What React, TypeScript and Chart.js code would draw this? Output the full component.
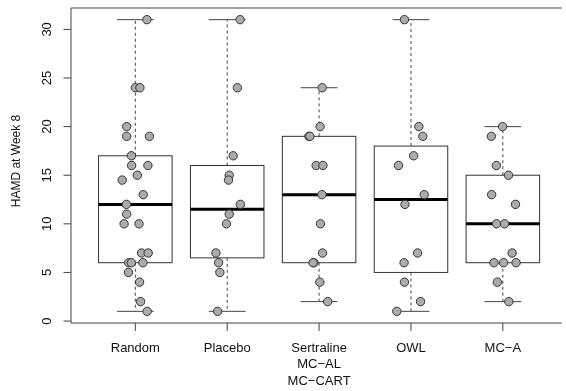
import React, { useEffect, useRef } from "react";
import { Chart, registerables } from "chart.js";

Chart.register(...registerables);

// ---- data ----
const categories: string[][] = [["Random"], ["Placebo"], ["Sertraline", "MC\u2212AL", "MC\u2212CART"], ["OWL"], ["MC\u2212A"]];

const randomValues = [31, 24, 24, 20, 19, 19, 17, 16, 16, 15, 14.5, 13, 12, 11, 10, 10, 7, 7, 6, 6, 6, 5, 4, 2, 1];
const randomJitter = [0.126, 0.0, 0.05, -0.094, -0.094, 0.154, -0.043, -0.04, 0.137, 0.022, -0.143, 0.086, -0.097, -0.094, -0.122, 0.04, 0.068, 0.14, -0.072, -0.043, 0.083, -0.075, 0.046, 0.057, 0.129];

const placeboValues = [31, 24, 17, 15, 14.5, 12, 11, 10, 7, 6, 5, 1];
const placeboJitter = [0.14, 0.111, 0.065, 0.022, 0.014, 0.143, 0.022, -0.008, -0.123, -0.094, -0.08, -0.104];

const sertralineValues = [24, 20, 19, 19, 16, 16, 13, 10, 7, 6, 6, 4, 2];
const sertralineJitter = [0.034, 0.011, -0.111, -0.1, -0.032, 0.042, 0.031, 0.015, 0.037, -0.057, -0.065, 0.008, 0.094];

const owlValues = [31, 20, 19, 17, 16, 13, 12, 7, 6, 4, 2, 1];
const owlJitter = [-0.071, 0.086, 0.129, 0.029, -0.136, 0.144, -0.065, 0.072, -0.075, -0.071, 0.104, -0.154];

const mcaValues = [20, 19, 16, 15, 13, 12, 10, 10, 7, 6, 6, 6, 4, 2];
const mcaJitter = [-0.003, -0.125, -0.071, 0.061, -0.122, 0.137, -0.068, 0.018, 0.101, -0.097, 0.008, 0.144, -0.06, 0.065];

const yTicks = [0, 5, 10, 15, 20, 25, 30];
const yTitle = "HAMD at Week 8";

const groupValues = [randomValues, placeboValues, sertralineValues, owlValues, mcaValues];
const groupJitter = [randomJitter, placeboJitter, sertralineJitter, owlJitter, mcaJitter];

// Tukey five-number summary (as R's boxplot)
function fivenum(vals: number[]): number[] {
  const x = [...vals].sort((a, b) => a - b);
  const n = x.length;
  const n4 = Math.floor((n + 3) / 2) / 2;
  const d = [1, n4, (n + 1) / 2, n + 1 - n4, n];
  return d.map((v) => 0.5 * (x[Math.floor(v) - 1] + x[Math.ceil(v) - 1]));
}

const FONT = '"Liberation Sans", Arial, Helvetica, sans-serif';

const boxPlugin = {
  id: "boxes",
  beforeDatasetsDraw(chart: any) {
    const { ctx, scales } = chart;
    const xs = scales.x;
    const ys = scales.y;
    ctx.save();
    groupValues.forEach((vals, i) => {
      const pos = i + 1;
      const [mn, q1, med, q3, mx] = fivenum(vals);
      const xc = xs.getPixelForValue(pos);
      const xl = xs.getPixelForValue(pos - 0.4);
      const xr = xs.getPixelForValue(pos + 0.4);
      const cl = xs.getPixelForValue(pos - 0.2);
      const cr = xs.getPixelForValue(pos + 0.2);
      const yMin = ys.getPixelForValue(mn);
      const yQ1 = ys.getPixelForValue(q1);
      const yMed = ys.getPixelForValue(med);
      const yQ3 = ys.getPixelForValue(q3);
      const yMax = ys.getPixelForValue(mx);
      // whiskers (dashed)
      ctx.strokeStyle = "#444";
      ctx.lineWidth = 1;
      ctx.setLineDash([3, 3]);
      ctx.beginPath();
      ctx.moveTo(xc, yQ3);
      ctx.lineTo(xc, yMax);
      ctx.moveTo(xc, yQ1);
      ctx.lineTo(xc, yMin);
      ctx.stroke();
      ctx.setLineDash([]);
      // caps
      ctx.beginPath();
      ctx.moveTo(cl, yMax);
      ctx.lineTo(cr, yMax);
      ctx.moveTo(cl, yMin);
      ctx.lineTo(cr, yMin);
      ctx.stroke();
      // box
      ctx.strokeStyle = "#333";
      ctx.strokeRect(xl, yQ3, xr - xl, yQ1 - yQ3);
      // median
      ctx.strokeStyle = "#000";
      ctx.lineWidth = 3;
      ctx.beginPath();
      ctx.moveTo(xl, yMed);
      ctx.lineTo(xr, yMed);
      ctx.stroke();
    });
    ctx.restore();
  },
  afterDraw(chart: any) {
    const { ctx, scales, chartArea } = chart;
    const xs = scales.x;
    const ys = scales.y;
    ctx.save();
    ctx.strokeStyle = "#444";
    ctx.lineWidth = 1;
    // frame (top, left, bottom)
    ctx.beginPath();
    ctx.moveTo(chartArea.right + 1, chartArea.top);
    ctx.lineTo(chartArea.left, chartArea.top);
    ctx.lineTo(chartArea.left, chartArea.bottom);
    ctx.lineTo(chartArea.right + 1, chartArea.bottom);
    ctx.stroke();
    // y ticks
    ctx.fillStyle = "#111";
    ctx.font = `13px ${FONT}`;
    yTicks.forEach((t) => {
      const y = ys.getPixelForValue(t);
      ctx.beginPath();
      ctx.moveTo(chartArea.left - 7.5, y);
      ctx.lineTo(chartArea.left, y);
      ctx.stroke();
      ctx.save();
      ctx.translate(47.5, y);
      ctx.rotate(-Math.PI / 2);
      ctx.textAlign = "center";
      ctx.textBaseline = "middle";
      ctx.fillText(String(t), 0, 0);
      ctx.restore();
    });
    // x ticks
    categories.forEach((lines, i) => {
      const x = xs.getPixelForValue(i + 1);
      ctx.beginPath();
      ctx.moveTo(x, chartArea.bottom);
      ctx.lineTo(x, chartArea.bottom + 8);
      ctx.stroke();
      ctx.textAlign = "center";
      ctx.textBaseline = "middle";
      lines.forEach((ln, j) => {
        ctx.fillText(ln, x, 348 + j * 16.5);
      });
    });
    // y title
    ctx.save();
    ctx.font = `12px ${FONT}`;
    ctx.translate(16.5, 161);
    ctx.rotate(-Math.PI / 2);
    ctx.textAlign = "center";
    ctx.textBaseline = "middle";
    ctx.fillText(yTitle, 0, 0);
    ctx.restore();
    ctx.restore();
  },
};

export default function App() {
  const ref = useRef<HTMLCanvasElement | null>(null);
  useEffect(() => {
    if (!ref.current) return;
    const points: { x: number; y: number }[] = [];
    groupValues.forEach((vals, i) => {
      vals.forEach((v, j) => points.push({ x: i + 1 + groupJitter[i][j], y: v }));
    });
    const chart = new Chart(ref.current, {
      type: "scatter",
      data: {
        datasets: [
          {
            data: points,
            pointRadius: 4.2,
            pointHoverRadius: 4.2,
            backgroundColor: "#ababab",
            borderColor: "#333",
            borderWidth: 1,
          },
        ],
      },
      options: {
        responsive: false,
        animation: false,
        events: [],
        layout: { padding: { left: 71, top: 8, right: 0, bottom: 68 } },
        plugins: { legend: { display: false }, tooltip: { enabled: false } },
        scales: {
          x: { type: "linear", display: false, min: 0.3, max: 0.3 + 495 / 92.86 },
          y: { type: "linear", display: false, min: -0.2, max: 32.2 },
        },
      },
      plugins: [boxPlugin],
    } as any);
    return () => chart.destroy();
  }, []);
  return (
    <div style={{ position: "absolute", left: 0, top: 0, width: 566, height: 391, background: "#fff" }}>
      <canvas ref={ref} width={566} height={391} style={{ width: 566, height: 391, display: "block" }} />
    </div>
  );
}
